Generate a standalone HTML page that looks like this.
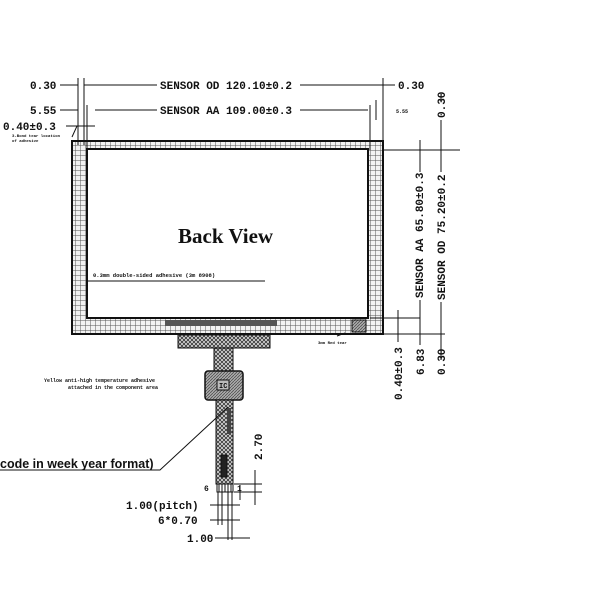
<!DOCTYPE html>
<html><head><meta charset="utf-8"><style>
html,body{margin:0;padding:0;background:#fff;width:600px;height:600px;overflow:hidden}
text{font-family:"Liberation Mono",monospace;font-weight:bold;fill:#111}
</style></head><body>
<svg width="600" height="600" viewBox="0 0 600 600" xmlns="http://www.w3.org/2000/svg">
<defs>
<pattern id="grid" width="5" height="5" patternUnits="userSpaceOnUse">
<rect width="5" height="5" fill="#f2f2f2"/><path d="M0 0H5M0 0V5" stroke="#555" stroke-width="1"/>
</pattern>
<pattern id="hatch" width="4" height="4" patternUnits="userSpaceOnUse">
<rect width="4" height="4" fill="#ddd"/><path d="M0 0L4 4M4 0L0 4" stroke="#333" stroke-width="0.8"/>
</pattern>
<pattern id="diag" width="3" height="3" patternUnits="userSpaceOnUse">
<rect width="3" height="3" fill="#aaa"/><path d="M0 3L3 0" stroke="#444" stroke-width="0.7"/>
</pattern>
</defs>
<g stroke="#111" fill="none" stroke-width="1">
<rect x="72" y="141" width="311" height="193" fill="url(#grid)" stroke-width="2"/>
<rect x="87" y="149" width="281" height="169" fill="#fff" stroke-width="2"/>
<rect x="165" y="320" width="112" height="6" fill="#555" stroke="none"/>
<rect x="352" y="320" width="14" height="12" fill="url(#diag)"/>
<rect x="178" y="335" width="92" height="13" fill="url(#hatch)"/>
<rect x="214" y="348" width="19" height="23" fill="url(#hatch)"/>
<rect x="205" y="371" width="38" height="29" rx="3" fill="url(#diag)" stroke-width="1.5"/>
<rect x="217" y="380" width="12" height="10" fill="#bbb"/>
<rect x="216" y="400" width="17" height="84" fill="url(#hatch)"/>
<rect x="221" y="455" width="6" height="22" fill="#222"/>
<rect x="227" y="408" width="4" height="26" fill="#444" stroke="none"/>
<rect x="217" y="484" width="16" height="8" fill="#fff"/>
<path d="M219 484V492M222 484V492M225 484V492M228 484V492M231 484V492"/>
<path d="M78 78V145M84 78V145M87 105V150M383 78V145M370 105V150M376 100V120"/>
<path d="M60 85H78M84 85H157M300 85H372M372 85H395M60 110H78M95 110H157M300 110H368M66 126H95"/>
<path d="M383 150H460M420 140V172M420 300V318M441 100V94M441 120V172M441 302V360"/>
<path d="M370 318H420M383 334H445M398 310V342M420 318V345"/>
<path d="M228 407L160 470H0"/>
<path d="M240 485V500M234 492H262M234 484H262M255 470V505"/>
<path d="M218 492V525M222 492V525M228 492V540M232 492V540M210 505H240M210 520H240M215 538H250"/>
<path d="M88 281H265M77 126L72 137M337 336L345 333"/>
</g>
<text x="30" y="89" font-size="11">0.30</text>
<text x="160" y="89" font-size="11">SENSOR OD 120.10±0.2</text>
<text x="398" y="89" font-size="11">0.30</text>
<text x="30" y="114" font-size="11">5.55</text>
<text x="160" y="114" font-size="11">SENSOR AA 109.00±0.3</text>
<text x="3" y="130" font-size="11">0.40±0.3</text>
<text x="12" y="137" font-size="4">3-Bond tear location</text>
<text x="12" y="142" font-size="4">of adhesive</text>
<text x="396" y="113" font-size="5">5.55</text>
<text x="178" y="243" font-size="21" style="font-family:'Liberation Serif',serif">Back View</text>
<text x="93" y="277" font-size="5.5">0.3mm double-sided adhesive (3m 8908)</text>
<text x="318" y="344" font-size="4">3mm Red tear</text>
<text x="44" y="382" font-size="5">Yellow anti-high temperature adhesive</text>
<text x="68" y="389" font-size="5">attached in the component area</text>
<text x="219" y="388" font-size="7">IC</text>
<text x="0" y="468" font-size="12.5" style="font-family:'Liberation Sans',sans-serif">code in week year format)</text>
<text x="204" y="491" font-size="8">6</text>
<text x="237" y="491" font-size="8">1</text>
<text x="126" y="509" font-size="11">1.00(pitch)</text>
<text x="158" y="524" font-size="11">6*0.70</text>
<text x="187" y="542" font-size="11">1.00</text>
<g font-size="11">
<text transform="translate(262,460) rotate(-90)">2.70</text>
<text transform="translate(423,298) rotate(-90)">SENSOR AA 65.80±0.3</text>
<text transform="translate(445,300) rotate(-90)">SENSOR OD 75.20±0.2</text>
<text transform="translate(445,118) rotate(-90)">0.30</text>
<text transform="translate(402,400) rotate(-90)">0.40±0.3</text>
<text transform="translate(424,375) rotate(-90)">6.83</text>
<text transform="translate(445,375) rotate(-90)">0.30</text>
</g>
</svg>
</body></html>
